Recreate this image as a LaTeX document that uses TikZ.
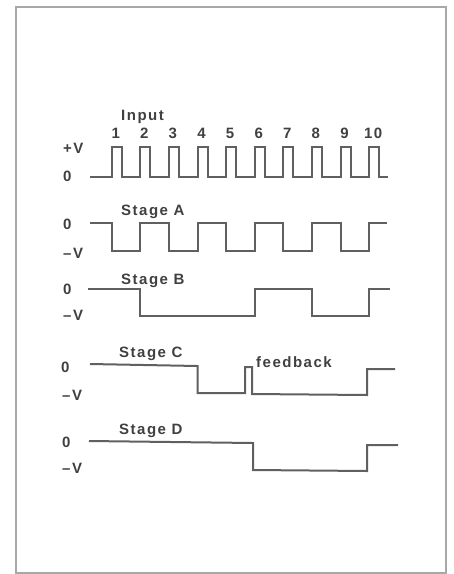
\documentclass[tikz,border=0pt]{standalone}
\usepackage{fontspec}
\usepackage{xcolor}
\usepackage{tikz}
\usetikzlibrary{calc}
\newfontfamily\wavefont[LetterSpace=10]{Liberation Sans Bold}
\definecolor{inkgray}{HTML}{404040}
\definecolor{tracegray}{HTML}{606060}
\definecolor{framegray}{HTML}{A8A8A8}

\begin{document}
\begin{tikzpicture}[x=1pt, y=-1pt,
  wave/.style={draw=tracegray, line width=2pt, line join=miter},
  lbl/.style={inner sep=0pt, anchor=base west, text=inkgray, font=\wavefont\fontsize{15}{17}\selectfont},
  num/.style={lbl, anchor=base},
  frame/.style={draw=framegray, line width=1.4pt}]

  \useasboundingbox (0,0) rectangle (454,574);
  \draw [frame] (16,7) rectangle (446,573);

  % Input pulses
  \node [lbl] (input) at (121,120) {Input};
  \foreach \i in {1,...,10}
    \node [num] (n\i) at ({115.7+28.6*(\i-1)},138) {\i};
  \node [lbl] (inhi) at (63,153) {+V};
  \node [lbl] (inlo) at (63,181) {0};
  \draw [wave] (90,177) \foreach \i in {0,...,9}{
    -- ({111.7+28.6*\i},177) -- ({111.7+28.6*\i},147)
    -- ({121.7+28.6*\i},147) -- ({121.7+28.6*\i},177)} -- (388,177);

  % Stage A: toggles on every pulse
  \node [lbl] (stA) at (121,215) {Stage A};
  \node [lbl] (aHi) at (63,229) {0};
  \node [lbl] (aLo) at (63,258) {–V};
  \draw [wave] (90,223) \foreach \i in {0,...,4}{
    -- ({111.7+57.2*\i},223) -- ({111.7+57.2*\i},251)
    -- ({140.3+57.2*\i},251) -- ({140.3+57.2*\i},223)} -- (387,223);

  % Stage B
  \node [lbl] (stB) at (121,284) {Stage B};
  \node [lbl] (bHi) at (63,294) {0};
  \node [lbl] (bLo) at (63,320) {–V};
  \draw [wave] (88,289) -- (140.3,289) -- (140.3,316) -- (254.7,316)
    -- (254.7,289) -- (311.9,289) -- (311.9,316) -- (369.1,316)
    -- (369.1,289) -- (390,289);

  % Stage C with feedback spike
  \node [lbl] (stC) at (119,357) {Stage C};
  \node [lbl] (cHi) at (61,372) {0};
  \node [lbl] (cLo) at (62,400) {–V};
  \node [lbl] (fb) at (256,367) {feedback};
  \draw [wave] (90,364) -- (197.5,366) -- (197.5,393) -- (245,393)
    -- (245,367) -- (252,367) -- (252,394) -- (367,395)
    -- (367,369) -- (395,369);

  % Stage D
  \node [lbl] (stD) at (119,434) {Stage D};
  \node [lbl] (dHi) at (62,447) {0};
  \node [lbl] (dLo) at (62,473) {–V};
  \draw [wave] (89,441) -- (253,443) -- (253,470) -- (367,471)
    -- (367,445) -- (398,445);
\end{tikzpicture}
\end{document}
